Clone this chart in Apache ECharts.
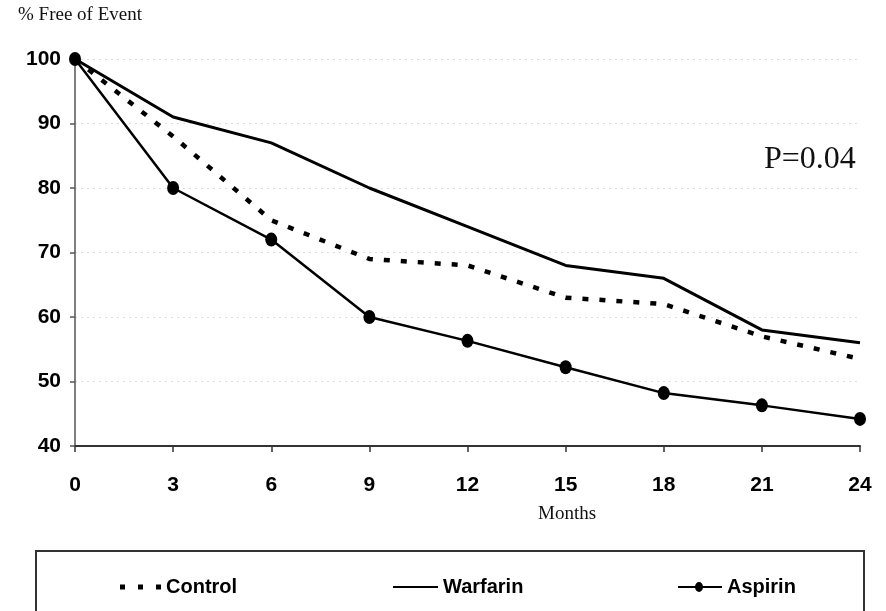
<!DOCTYPE html>
<html>
<head>
<meta charset="utf-8">
<script src="https://cdn.jsdelivr.net/npm/echarts@6/dist/echarts.min.js"></script>
<style>
html,body{margin:0;padding:0;background:#fff;}
#chart{width:886px;height:611px;}
</style>
</head>
<body>
<div id="chart"></div>
<script>
const months = [0, 3, 6, 9, 12, 15, 18, 21, 24];
const controlValues = [100, 88, 75, 69, 68, 63, 62, 57, 53.5];
const warfarinValues = [100, 91, 87, 80, 74, 68, 66, 58, 56];
const aspirinValues = [100, 80, 72, 60, 56.3, 52.2, 48.2, 46.3, 44.2];
const seriesNames = ['Control', 'Warfarin', 'Aspirin'];
const yTitle = '% Free of Event';
const xTitle = 'Months';
const pLabel = 'P=0.04';

const pairs = vals => months.map((m, i) => [m, vals[i]]);
const sans = "'Liberation Sans', Arial, sans-serif";
const serif = "'Liberation Serif', 'Times New Roman', serif";

const chart = echarts.init(document.getElementById('chart'), null, {renderer: 'canvas'});
const legendText = {fontFamily: sans, fontWeight: 'bold', fontSize: 20, color: '#000'};
const iconControl = 'path://M0,0h5v5h-5z M18,0h5v5h-5z M36,0h5v5h-5z';
const iconWarfarin = 'path://M0,0h45v2h-45z';
const iconAspirin = 'path://M0,4h18v2h-18z M24,4h20v2h-20z M17,5a4,5 0 1,1 8,0a4,5 0 1,1 -8,0z';
chart.setOption({
  animation: false,
  backgroundColor: '#fff',
  grid: {left: 75, right: 26, top: 59, bottom: 165},
  xAxis: {
    type: 'value', min: 0, max: 24, interval: 3,
    axisLine: {lineStyle: {color: '#333', width: 2}},
    axisTick: {show: true, length: 6, lineStyle: {color: '#333', width: 1.5}},
    axisLabel: {margin: 29, fontFamily: sans, fontWeight: 'bold', fontSize: 21, color: '#000'},
    splitLine: {show: false}
  },
  yAxis: {
    type: 'value', min: 40, max: 100, interval: 10,
    axisLine: {show: true, lineStyle: {color: '#555', width: 1.5}},
    axisTick: {show: true, length: 5, lineStyle: {color: '#555', width: 1.5}},
    axisLabel: {margin: 14, fontFamily: sans, fontWeight: 'bold', fontSize: 21, color: '#000'},
    splitLine: {show: true, lineStyle: {color: '#dedede', width: 1, type: [2, 4]}}
  },
  legend: [
    {data: [{name: 'Control', icon: iconControl}], left: 115, top: 572, itemWidth: 41, itemHeight: 20, textStyle: legendText},
    {data: [{name: 'Warfarin', icon: iconWarfarin}], left: 388, top: 572, itemWidth: 45, itemHeight: 20, textStyle: legendText},
    {data: [{name: 'Aspirin', icon: iconAspirin}], left: 673, top: 572, itemWidth: 44, itemHeight: 20, textStyle: legendText}
  ],
  graphic: [
    {type: 'text', left: 18, top: 6, style: {text: yTitle, font: '19px ' + serif, fill: '#111'}},
    {type: 'text', left: 538, top: 505, style: {text: xTitle, font: '19px ' + serif, fill: '#111'}},
    {type: 'text', left: 764, top: 144, style: {text: pLabel, font: '32px ' + serif, fill: '#111'}},
    {type: 'rect', shape: {x: 36, y: 551, width: 828, height: 120}, style: {fill: 'none', stroke: '#333', lineWidth: 2}}
  ],
  series: [
    {
      name: seriesNames[0], type: 'line', data: pairs(controlValues),
      symbol: 'none', color: '#000',
      lineStyle: {color: '#000', width: 4.5, type: [6, 11], cap: 'butt'},
      z: 3
    },
    {
      name: seriesNames[1], type: 'line', data: pairs(warfarinValues),
      symbol: 'none', color: '#000',
      lineStyle: {color: '#000', width: 3}
    },
    {
      name: seriesNames[2], type: 'line', data: pairs(aspirinValues),
      symbol: 'circle', symbolSize: [12, 14], color: '#000',
      itemStyle: {color: '#000'},
      lineStyle: {color: '#000', width: 2.5}
    }
  ]
});
</script>
</body>
</html>
